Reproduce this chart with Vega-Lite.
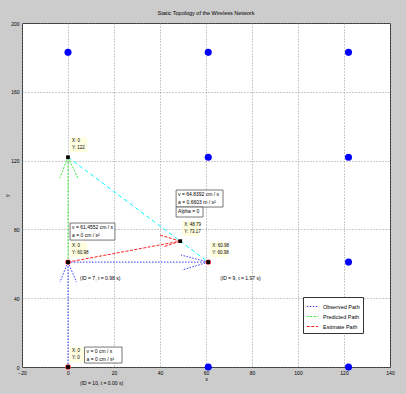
{
  "$schema": "https://vega.github.io/schema/vega-lite/v6.json",
  "width": 368,
  "height": 344,
  "autosize": {"type": "none"},
  "padding": {"left": 22, "top": 23, "right": 16, "bottom": 27},
  "background": "#cccccc",
  "title": {
    "text": "Static Topology of the Wireless Network",
    "fontSize": 5.5,
    "fontWeight": "normal",
    "color": "#000000",
    "offset": 5
  },
  "config": {
    "font": "Liberation Sans",
    "view": {"fill": "#ffffff", "stroke": "#333333", "strokeWidth": 1},
    "axis": {
      "grid": true,
      "gridColor": "#7f7f7f",
      "gridDash": [1, 2],
      "gridWidth": 0.8,
      "domain": false,
      "ticks": false,
      "labelFontSize": 5,
      "labelColor": "#000000",
      "labelFlush": false,
      "labelOverlap": false,
      "titleFontSize": 5.5,
      "titleFontWeight": "normal",
      "titleColor": "#000000"
    },
    "legend": {
      "orient": "none",
      "legendX": 281,
      "legendY": 274,
      "fillColor": "#ffffff",
      "strokeColor": "#333333",
      "padding": 3,
      "rowPadding": 0,
      "symbolType": "stroke",
      "symbolSize": 130,
      "symbolStrokeWidth": 1,
      "labelFontSize": 5.5,
      "labelColor": "#000000",
      "labelOffset": 4,
      "title": null
    }
  },
  "datasets": {
    "anchors": [
      {"x": 0, "y": 182.94},
      {"x": 60.98, "y": 182.94},
      {"x": 121.96, "y": 182.94},
      {"x": 60.98, "y": 121.96},
      {"x": 121.96, "y": 121.96},
      {"x": 121.96, "y": 60.98},
      {"x": 60.98, "y": 0},
      {"x": 121.96, "y": 0}
    ],
    "segments": [
      {"path": "Observed Path", "x": 0, "y": 0, "x2": 0, "y2": 60.98},
      {"path": "Observed Path", "x": 0, "y": 60.98, "x2": -3.5, "y2": 49.4},
      {"path": "Observed Path", "x": 0, "y": 60.98, "x2": 3.7, "y2": 49.4},
      {"path": "Observed Path", "x": 0, "y": 60.98, "x2": 60.98, "y2": 60.98},
      {"path": "Observed Path", "x": 60.98, "y": 60.98, "x2": 49.1, "y2": 65.1},
      {"path": "Observed Path", "x": 60.98, "y": 60.98, "x2": 49.6, "y2": 56.4},
      {"path": "Predicted Path", "x": 0, "y": 60.98, "x2": 0, "y2": 121.96},
      {"path": "Predicted Path", "x": 0, "y": 121.96, "x2": -3.5, "y2": 109.9},
      {"path": "Predicted Path", "x": 0, "y": 121.96, "x2": 4.3, "y2": 109.9},
      {"path": "Estimate Path", "x": 0, "y": 60.98, "x2": 48.79, "y2": 73.17},
      {"path": "Estimate Path", "x": 48.79, "y": 73.17, "x2": 40.0, "y2": 76.7},
      {"path": "Estimate Path", "x": 48.79, "y": 73.17, "x2": 41.3, "y2": 69.8}
    ],
    "links": [
      {"x": 0, "y": 121.96, "x2": 60.98, "y2": 60.98}
    ],
    "stops": [
      {"x": 0, "y": 0, "label": "(ID = 10, t = 0.00 s)"},
      {"x": 0, "y": 60.98, "label": "(ID = 7, t = 0.98 s)"},
      {"x": 60.98, "y": 60.98, "label": "(ID = 9, t = 1.97 s)"}
    ],
    "tips": [
      {"x": 0, "y": 0, "tip": ["X: 0", "Y: 0"]},
      {"x": 0, "y": 60.98, "tip": ["X: 0", "Y: 60.98"]},
      {"x": 0, "y": 121.96, "tip": ["X: 0", "Y: 122"]},
      {"x": 48.79, "y": 73.17, "tip": ["X: 48.79", "Y: 73.17"]},
      {"x": 60.98, "y": 60.98, "tip": ["X: 60.98", "Y: 60.98"]}
    ],
    "infos": [
      {"x": 7.2, "x2": 23.5, "y": 2.3, "y2": 11.6, "text": ["v = 0  cm / s", "a = 0 cm / s²"]},
      {"x": 0.9, "x2": 20.4, "y": 73.8, "y2": 83.7, "text": ["v = 61.4552 cm / s", "a = 0 cm / s²"]},
      {"x": 47.0, "x2": 67.4, "y": 93.0, "y2": 102.9, "text": ["v = 64.8392 cm / s", "a = 0.6603  m / s²"]},
      {"x": 47.0, "x2": 58.7, "y": 87.2, "y2": 93.0, "text": ["Alpha = 0"]}
    ]
  },
  "layer": [
    {
      "data": {"name": "links"},
      "mark": {"type": "rule", "color": "#00ffff", "strokeWidth": 1, "strokeDash": [4, 3]},
      "encoding": {
        "x": {
          "field": "x", "type": "quantitative",
          "scale": {"domain": [-20, 140], "nice": false, "zero": false},
          "axis": {"values": [-20, 0, 20, 40, 60, 80, 100, 120, 140], "title": "x", "labelPadding": 3, "titlePadding": 1}
        },
        "y": {
          "field": "y", "type": "quantitative",
          "scale": {"domain": [0, 200], "nice": false},
          "axis": {"values": [0, 20, 40, 60, 80, 100, 120, 140, 160, 180, 200], "title": "y", "labelPadding": 3, "titlePadding": 1}
        },
        "x2": {"field": "x2"},
        "y2": {"field": "y2"}
      }
    },
    {
      "data": {"name": "segments"},
      "mark": {"type": "rule", "strokeWidth": 1},
      "encoding": {
        "x": {"field": "x", "type": "quantitative"},
        "y": {"field": "y", "type": "quantitative"},
        "x2": {"field": "x2"},
        "y2": {"field": "y2"},
        "color": {
          "field": "path", "type": "nominal",
          "sort": ["Observed Path", "Predicted Path", "Estimate Path"],
          "scale": {
            "domain": ["Observed Path", "Predicted Path", "Estimate Path"],
            "range": ["#3c3cff", "#2ee62e", "#ff2020"]
          }
        },
        "strokeDash": {
          "field": "path", "type": "nominal",
          "sort": ["Observed Path", "Predicted Path", "Estimate Path"],
          "scale": {
            "domain": ["Observed Path", "Predicted Path", "Estimate Path"],
            "range": [[1.5, 1.5], [2, 1.5], [3, 1.5]]
          }
        }
      }
    },
    {
      "data": {"name": "anchors"},
      "mark": {"type": "point", "filled": true, "color": "#0000ff", "opacity": 1, "size": 50},
      "encoding": {
        "x": {"field": "x", "type": "quantitative"},
        "y": {"field": "y", "type": "quantitative"}
      }
    },
    {
      "data": {"name": "tips"},
      "mark": {"type": "rect", "fill": "#ffffe0", "opacity": 1, "xOffset": 2, "x2Offset": 19, "yOffset": -20, "y2Offset": -5},
      "encoding": {
        "x": {"field": "x", "type": "quantitative"},
        "x2": {"field": "x"},
        "y": {"field": "y", "type": "quantitative"},
        "y2": {"field": "y"}
      }
    },
    {
      "data": {"name": "tips"},
      "mark": {"type": "text", "align": "left", "baseline": "top", "dx": 4, "dy": -19, "fontSize": 4.5, "lineHeight": 6.5, "color": "#000000"},
      "encoding": {
        "x": {"field": "x", "type": "quantitative"},
        "y": {"field": "y", "type": "quantitative"},
        "text": {"field": "tip"}
      }
    },
    {
      "data": {"name": "stops"},
      "mark": {"type": "point", "filled": true, "color": "#ff3030", "opacity": 1, "size": 30},
      "encoding": {
        "x": {"field": "x", "type": "quantitative"},
        "y": {"field": "y", "type": "quantitative"}
      }
    },
    {
      "data": {"name": "tips"},
      "mark": {"type": "square", "filled": true, "color": "#000000", "opacity": 1, "size": 14},
      "encoding": {
        "x": {"field": "x", "type": "quantitative"},
        "y": {"field": "y", "type": "quantitative"}
      }
    },
    {
      "data": {"name": "stops"},
      "mark": {"type": "text", "align": "left", "baseline": "middle", "dx": 12, "dy": 16, "fontSize": 5, "color": "#000000"},
      "encoding": {
        "x": {"field": "x", "type": "quantitative"},
        "y": {"field": "y", "type": "quantitative"},
        "text": {"field": "label"}
      }
    },
    {
      "data": {"name": "infos"},
      "mark": {"type": "rect", "fill": "#ffffff", "stroke": "#555555", "strokeWidth": 0.8, "opacity": 1},
      "encoding": {
        "x": {"field": "x", "type": "quantitative"},
        "x2": {"field": "x2"},
        "y": {"field": "y", "type": "quantitative"},
        "y2": {"field": "y2"}
      }
    },
    {
      "data": {"name": "infos"},
      "mark": {"type": "text", "align": "left", "baseline": "top", "dx": 2, "dy": 1.5, "fontSize": 5, "lineHeight": 8, "color": "#000000"},
      "encoding": {
        "x": {"field": "x", "type": "quantitative"},
        "y": {"field": "y2", "type": "quantitative"},
        "text": {"field": "text"}
      }
    }
  ]
}
